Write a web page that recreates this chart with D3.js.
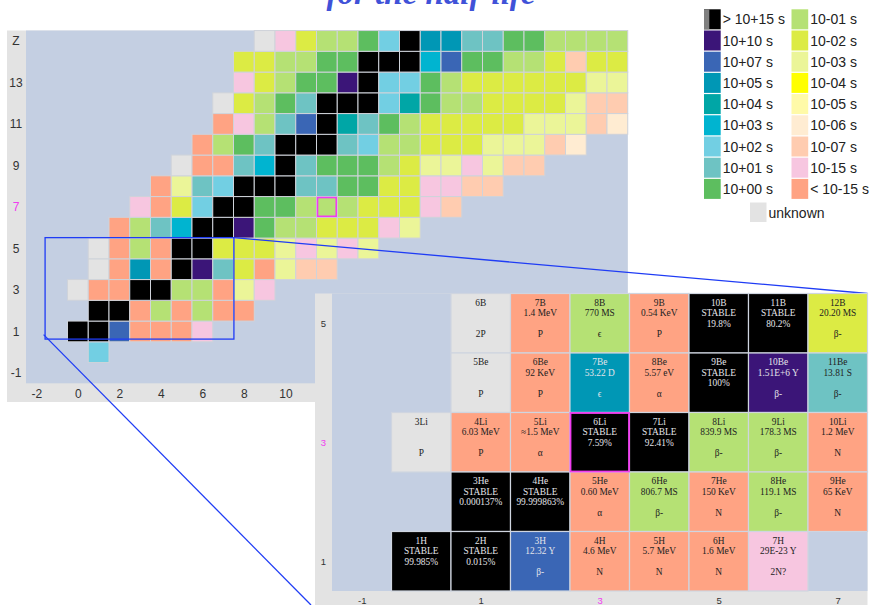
<!DOCTYPE html>
<html>
<head>
<meta charset="utf-8">
<script src="https://cdn.jsdelivr.net/npm/d3@7"></script>
<style>
  body { margin: 0; background: #fff; }
  svg { display: block; }
</style>
</head>
<body>
<svg id="chart" width="873" height="605"></svg>
<script>
// ---- half-life colour bins (legend order) ----
const binKeys   = ["S", "10", "7", "5", "4", "3", "2", "1", "0", "-1", "-2", "-3", "-4", "-5", "-6", "-7", "-15", "<"];
const binLabels = ["> 10+15 s", "10+10 s", "10+07 s", "10+05 s", "10+04 s", "10+03 s", "10+02 s", "10+01 s", "10+00 s",
                   "10-01 s", "10-02 s", "10-03 s", "10-04 s", "10-05 s", "10-06 s", "10-07 s", "10-15 s", "< 10-15 s"];
const binColors = ["#000000", "#3b1578", "#3a66b5", "#0097b5", "#00a6a6", "#00b4d0", "#72cfe3", "#6ec3c3", "#5dbe5f",
                   "#b5e174", "#dceb44", "#ebf598", "#ffff00", "#fffaa8", "#ffecd2", "#ffccb0", "#f7c6e0", "#ffa383"];
const unknownLabel = "unknown";
const unknownColor = "#e3e3e3";

// ---- nuclide half-life bins, one row per proton number Z = 0..15 ----
const rowFirstN = [1, 0, 1, 0, 1, 1, 2, 3, 4, 5, 6, 7, 7, 8, 8, 9];
const rowBins = [
  ["2"],
  ["S","S","7","<","<","<","-15"],
  ["S","S","<","-1","<","-1","<","<"],
  ["u","<","<","S","S","-1","-1","<","-3","-15"],
  ["u","<","5","<","S","10","1","-2","<","-3","-7","-7"],
  ["u","<","-1","<","S","S","-2","-2","-2","-3","-15","-3","-15","-3"],
  ["<","-1","1","3","S","S","10","0","-1","-1","-2","-2","-2","-15","-3"],
  ["-15","<","-2","2","S","S","0","0","-1","-1","-1","-2","-2","-2","-15","-7"],
  ["<","-3","1","2","S","S","S","1","1","0","0","-2","-2","-15","-15","-7","-7"],
  ["u","<","<","1","3","S","1","0","0","0","-1","-2","-3","-3","-15","-3","-7","-7"],
  ["<","-1","0","1","S","S","S","1","2","-1","-1","-2","-2","-2","-3","-3","-3","-7","-6"],
  ["<","-15","-1","1","7","S","4","1","0","-1","-2","-2","-2","-2","-2","-3","-3","-3","-7","-6"],
  ["u","-2","-1","0","1","S","S","S","2","4","0","-1","-1","-2","-2","-2","-2","-3","-7","-7"],
  ["-15","-2","-1","0","0","10","S","2","2","0","-1","-2","-2","-2","-2","-2","-2","-3","-3"],
  ["-2","-2","-1","-1","0","0","S","S","S","3","7","0","0","-1","-1","-2","-7","-2","-2"],
  ["u","-15","-2","-1","-1","0","2","S","5","5","1","1","0","0","-1","-1","-1","-1"]
];

// selected nuclides (N, Z)
const mainSelected  = [12, 7];
const insetSelected = [3, 3];

// axis ticks
const mainZTicks = [-1, 1, 3, 5, 7, 9, 11, 13, 15];
const mainNTicks = [-2, 0, 2, 4, 6, 8, 10];
const insetZTicks = [1, 3, 5];
const insetNTicks = [-1, 1, 3, 5, 7];

// zoomed window shown in the detail panel (N range, Z range)
const zoomN = [-1.58, 7.52];
const zoomZ = [0.63, 5.52];

// detail panel cells: [Z, N, name, half-life, abundance, decay mode]
const insetCells = [
  [5, 1, "6B",   "",          "",           "2P"],
  [5, 2, "7B",   "1.4 MeV",   "",           "P"],
  [5, 3, "8B",   "770 MS",    "",           "\u03f5"],
  [5, 4, "9B",   "0.54 KeV",  "",           "P"],
  [5, 5, "10B",  "STABLE",    "19.8%",      ""],
  [5, 6, "11B",  "STABLE",    "80.2%",      ""],
  [5, 7, "12B",  "20.20 MS",  "",           "\u03b2-"],
  [4, 1, "5Be",  "",          "",           "P"],
  [4, 2, "6Be",  "92 KeV",    "",           "P"],
  [4, 3, "7Be",  "53.22 D",   "",           "\u03f5"],
  [4, 4, "8Be",  "5.57 eV",   "",           "\u03b1"],
  [4, 5, "9Be",  "STABLE",    "100%",       ""],
  [4, 6, "10Be", "1.51E+6 Y", "",           "\u03b2-"],
  [4, 7, "11Be", "13.81 S",   "",           "\u03b2-"],
  [3, 0, "3Li",  "",          "",           "P"],
  [3, 1, "4Li",  "6.03 MeV",  "",           "P"],
  [3, 2, "5Li",  "\u22481.5 MeV", "",       "\u03b1"],
  [3, 3, "6Li",  "STABLE",    "7.59%",      ""],
  [3, 4, "7Li",  "STABLE",    "92.41%",     ""],
  [3, 5, "8Li",  "839.9 MS",  "",           "\u03b2-"],
  [3, 6, "9Li",  "178.3 MS",  "",           "\u03b2-"],
  [3, 7, "10Li", "1.2 MeV",   "",           "N"],
  [2, 1, "3He",  "STABLE",    "0.000137%",  ""],
  [2, 2, "4He",  "STABLE",    "99.999863%", ""],
  [2, 3, "5He",  "0.60 MeV",  "",           "\u03b1"],
  [2, 4, "6He",  "806.7 MS",  "",           "\u03b2-"],
  [2, 5, "7He",  "150 KeV",   "",           "N"],
  [2, 6, "8He",  "119.1 MS",  "",           "\u03b2-"],
  [2, 7, "9He",  "65 KeV",    "",           "N"],
  [1, 0, "1H",   "STABLE",    "99.985%",    ""],
  [1, 1, "2H",   "STABLE",    "0.015%",     ""],
  [1, 2, "3H",   "12.32 Y",   "",           "\u03b2-"],
  [1, 3, "4H",   "4.6 MeV",   "",           "N"],
  [1, 4, "5H",   "5.7 MeV",   "",           "N"],
  [1, 5, "6H",   "1.6 MeV",   "",           "N"],
  [1, 6, "7H",   "29E-23 Y",  "",           "2N?"]
];

const titleText = "for the half-life";

// ---- derived tables ----
const colorOf = k => k === "u" ? unknownColor : binColors[binKeys.indexOf(k)];
const nuclides = [];
rowBins.forEach((row, Z) => row.forEach((k, i) => nuclides.push({ Z, N: rowFirstN[Z] + i, bin: k })));
const binAt = (N, Z) => { const d = nuclides.find(d => d.N === N && d.Z === Z); return d ? d.bin : null; };
const lightText = new Set(["S", "10", "7", "5"]);

const svg = d3.select("#chart");
const MAGENTA = "#f03cf0";
const ZOOMBLUE = "#1f3cf5";

// ---- title (only its lower part lies inside the page) ----
svg.append("text")
  .attr("x", 431).attr("y", 3.5)
  .attr("text-anchor", "middle")
  .attr("font-family", "Liberation Serif, serif")
  .attr("font-style", "italic").attr("font-weight", "bold")
  .attr("font-size", 33)
  .attr("fill", "#4052d8")
  .text(titleText);

// ---- main chart ----
const x = d3.scaleLinear().domain([-2.5, 26.5]).range([26, 627.75]);
const y = d3.scaleLinear().domain([-1.5, 15.5]).range([383.3, 30.55]);

const main = svg.append("g");
main.append("rect").attr("x", 7).attr("y", 30.5).attr("width", 627.75 - 7).attr("height", 402 - 30.5).attr("fill", "#e3e3e3");
main.append("rect").attr("x", x(-2.5)).attr("y", y(15.5)).attr("width", x(26.5) - x(-2.5)).attr("height", y(-1.5) - y(15.5)).attr("fill", "#c4cfe2");

main.append("g").selectAll("rect").data(nuclides).join("rect")
  .attr("x", d => x(d.N - 0.5)).attr("y", d => y(d.Z + 0.5))
  .attr("width", x(1) - x(0)).attr("height", y(0) - y(1))
  .attr("fill", d => colorOf(d.bin))
  .attr("stroke", "#cfd3da").attr("stroke-width", 1);

main.append("rect")
  .attr("x", x(mainSelected[0] - 0.5) + 1).attr("y", y(mainSelected[1] + 0.5) + 1)
  .attr("width", x(1) - x(0) - 2).attr("height", y(0) - y(1) - 2)
  .attr("fill", "none").attr("stroke", MAGENTA).attr("stroke-width", 1.6);

const zAxis = main.append("g").attr("transform", `translate(${x(-2.5)},0)`)
  .call(d3.axisLeft(y).tickValues(mainZTicks).tickSize(0).tickFormat(d => d === 15 ? "Z" : String(d)));
zAxis.select(".domain").remove();
zAxis.selectAll("text")
  .attr("x", -10).attr("text-anchor", "middle")
  .attr("font-family", "Liberation Sans, Arial, sans-serif").attr("font-size", 12)
  .attr("fill", d => d === mainSelected[1] ? MAGENTA : "#333");

const nAxis = main.append("g").attr("transform", `translate(0,${y(-1.5)})`)
  .call(d3.axisBottom(x).tickValues(mainNTicks).tickSize(0).tickPadding(6.5).tickFormat(d => String(d)));
nAxis.select(".domain").remove();
nAxis.selectAll("text")
  .attr("font-family", "Liberation Sans, Arial, sans-serif").attr("font-size", 12)
  .attr("fill", "#333");

// zoom window outline
main.append("rect")
  .attr("x", x(zoomN[0])).attr("y", y(zoomZ[1]))
  .attr("width", x(zoomN[1]) - x(zoomN[0])).attr("height", y(zoomZ[0]) - y(zoomZ[1]))
  .attr("fill", "none").attr("stroke", ZOOMBLUE).attr("stroke-width", 1.3);

// ---- detail panel ----
const xi = d3.scaleLinear().domain([-1.5, 7.5]).range([332, 867.5]);
const yi = d3.scaleLinear().domain([0.5, 5.5]).range([591, 293.5]);

// connector lines from the zoom window to the panel
svg.append("line")
  .attr("x1", x(zoomN[1])).attr("y1", y(zoomZ[1]))
  .attr("x2", xi(7.5)).attr("y2", yi(5.5))
  .attr("stroke", ZOOMBLUE).attr("stroke-width", 1.3);
svg.append("line")
  .attr("x1", x(zoomN[0]) - 1.5).attr("y1", y(zoomZ[0]) - 4.5)
  .attr("x2", xi(-1.5) - 21).attr("y2", 605)
  .attr("stroke", ZOOMBLUE).attr("stroke-width", 1.3);

const inset = svg.append("g");
inset.append("rect").attr("x", 315).attr("y", yi(5.5)).attr("width", xi(7.5) - 315).attr("height", 605 - yi(5.5)).attr("fill", "#e3e3e3");
inset.append("rect").attr("x", xi(-1.5)).attr("y", yi(5.5)).attr("width", xi(7.5) - xi(-1.5)).attr("height", yi(0.5) - yi(5.5)).attr("fill", "#c4cfe2");

const cw = xi(1) - xi(0), ch = yi(0) - yi(1);
const cells = inset.append("g").selectAll("g").data(insetCells).join("g")
  .attr("transform", d => `translate(${xi(d[1] - 0.5)},${yi(d[0] + 0.5)})`);
cells.append("rect")
  .attr("width", cw).attr("height", ch)
  .attr("fill", d => colorOf(binAt(d[1], d[0])))
  .attr("stroke", "#cfd5e0").attr("stroke-width", 1.2);

const lineY = [12, 22.6, 33.3, 43.8];
[2, 3, 4, 5].forEach((col, li) => {
  cells.append("text")
    .attr("x", cw / 2).attr("y", lineY[li])
    .attr("text-anchor", "middle")
    .attr("font-family", "Liberation Serif, DejaVu Serif, serif")
    .attr("font-size", 9.4)
    .attr("fill", d => lightText.has(binAt(d[1], d[0])) ? "#e4e4ea" : "#222")
    .text(d => d[col]);
});

inset.append("rect")
  .attr("x", xi(insetSelected[0] - 0.5) + 0.5).attr("y", yi(insetSelected[1] + 0.5) + 0.5)
  .attr("width", cw - 1).attr("height", ch - 1)
  .attr("fill", "none").attr("stroke", MAGENTA).attr("stroke-width", 1.8);

const ziAxis = inset.append("g").attr("transform", `translate(${xi(-1.5)},0)`)
  .call(d3.axisLeft(yi).tickValues(insetZTicks).tickSize(0).tickFormat(d => String(d)));
ziAxis.select(".domain").remove();
ziAxis.selectAll("text")
  .attr("x", -8.5).attr("text-anchor", "middle")
  .attr("font-family", "Liberation Sans, Arial, sans-serif").attr("font-size", 9.5)
  .attr("fill", d => d === insetSelected[1] ? MAGENTA : "#333");

const niAxis = inset.append("g").attr("transform", `translate(0,${yi(0.5)})`)
  .call(d3.axisBottom(xi).tickValues(insetNTicks).tickSize(0).tickPadding(6).tickFormat(d => String(d)));
niAxis.select(".domain").remove();
niAxis.selectAll("text")
  .attr("font-family", "Liberation Sans, Arial, sans-serif").attr("font-size", 9.5)
  .attr("fill", d => d === insetSelected[0] ? MAGENTA : "#333");

// ---- legend ----
const legend = svg.append("g").attr("font-family", "Liberation Sans, Arial, sans-serif").attr("font-size", 14);
const legendItems = binLabels.map((label, i) => ({ label, color: binColors[i], col: Math.floor(i / 9), row: i % 9, i }));
const colX = [704, 791.5];
const item = legend.selectAll("g").data(legendItems).join("g")
  .attr("transform", d => `translate(${colX[d.col]},${9.3 + d.row * 21.2})`);
item.append("rect").attr("width", 16.7).attr("height", 20).attr("fill", d => d.color);
item.filter(d => d.i === 0).append("rect").attr("width", 5.3).attr("height", 20).attr("fill", "#808080");
item.append("text").attr("x", 18.7).attr("y", 10).attr("dy", "0.36em").attr("fill", "#222").text(d => d.label);

const unk = legend.append("g").attr("transform", "translate(750,202.5)");
unk.append("rect").attr("width", 16.5).attr("height", 19.5).attr("fill", unknownColor);
unk.append("text").attr("x", 18.5).attr("y", 10).attr("dy", "0.36em").attr("fill", "#222").text(unknownLabel);
</script>
</body>
</html>
